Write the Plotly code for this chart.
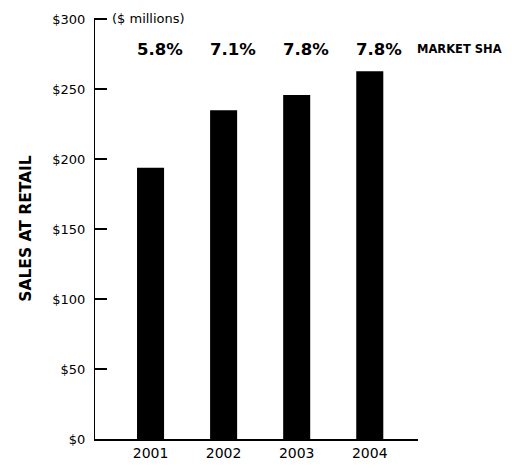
import plotly.graph_objects as go

years = ["2001", "2002", "2003", "2004"]
sales = [194, 235, 246, 263]
market_share = ["5.8%", "7.1%", "7.8%", "7.8%"]
y_ticks = [0, 50, 100, 150, 200, 250, 300]
y_tick_labels = ["$0", "$50", "$100", "$150", "$200", "$250", "$300"]

font_main = "DejaVu Sans"

fig = go.Figure()
fig.add_trace(go.Bar(
    x=list(range(len(years))), y=sales,
    marker=dict(color="black", line=dict(width=0)),
    width=0.37, showlegend=False,
))

annotations = []
for i, ms in enumerate(market_share):
    annotations.append(dict(
        x=i, y=1, xref="x", yref="paper", yanchor="middle",
        text=ms, showarrow=False, xshift=9, yshift=-31,
        font=dict(family=font_main, size=16.5, color="black", weight="bold"),
    ))
annotations.append(dict(
    x=1, y=1, xref="paper", yref="paper", xanchor="left", yanchor="middle",
    text="MARKET SHA", showarrow=False, yshift=-31, xshift=-3,
    font=dict(family=font_main, size=11.5, color="black", weight="bold"),
))
annotations.append(dict(
    x=0, y=1, xref="paper", yref="paper", xanchor="left", yanchor="middle",
    text="($ millions)", showarrow=False, xshift=15, yshift=0,
    font=dict(family=font_main, size=13, color="black"),
))

fig.update_layout(
    width=512, height=473,
    margin=dict(l=95, r=94, t=15, b=26),
    paper_bgcolor="white", plot_bgcolor="white",
    annotations=annotations,
    xaxis=dict(
        range=[-0.76, 3.66],
        tickmode="array", tickvals=list(range(len(years))), ticktext=years,
        showgrid=False, zeroline=False,
        showline=True, linecolor="black", linewidth=1.5,
        ticks="", tickfont=dict(family=font_main, size=14, color="black"),
        fixedrange=True,
    ),
    yaxis=dict(
        range=[0, 301],
        tickmode="array", tickvals=y_ticks, ticktext=y_tick_labels,
        showgrid=False, zeroline=False,
        showline=True, linecolor="black", linewidth=1,
        ticks="inside", ticklen=12, tickwidth=1.5, tickcolor="black",
        ticklabelstandoff=6,
        tickfont=dict(family=font_main, size=13, color="black"),
        title=dict(text="SALES AT RETAIL", standoff=16,
                   font=dict(family=font_main, size=15.5, color="black", weight="bold")),
        fixedrange=True,
    ),
)

fig.write_html("out.html")
